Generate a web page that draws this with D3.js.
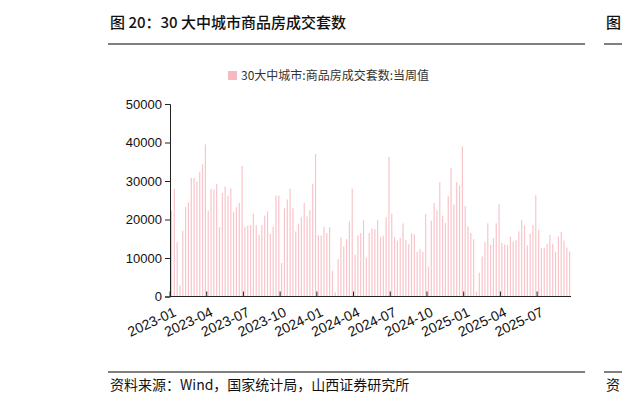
<!DOCTYPE html>
<html><head><meta charset="utf-8">
<style>body{margin:0;background:#fff}</style></head>
<body>
<svg width="622" height="406" font-family="'Noto Sans CJK SC', sans-serif"></svg>
<script src="https://d3js.org/d3.v7.min.js"></script>
<script>
// weekly values, 2023-01 .. 2025-09
var values = [
  22400,28000,14100,2900,17100,23200,24500,30800,30800,29900,32400,34300,39500,
  22300,28000,27800,29200,18000,26900,28600,26200,28100,22000,23200,24300,33900,
  18100,18400,18500,21500,18500,16000,18600,21000,22100,16300,18100,26200,26200,
  8700,22900,25200,28000,22900,16900,18900,20600,24300,20800,22400,29300,37000,
  15900,15800,18100,16500,18000,6700,1100,9700,15300,13000,14900,19500,28000,
  10900,15900,16500,19900,10100,
  16500,17700,17500,19900,15500,15800,20600,36300,21500,15500,14500,15200,19000,
  14600,13600,16500,16100,11600,12300,11600,21400,7800,19700,24300,22400,29700,
  21000,19100,26000,33400,23900,29700,28800,39000,23500,18200,16500,14900,1300,
  6200,10400,14100,19000,13400,15200,19000,24000,13900,13500,13400,15500,14300,
  14600,16900,19900,18400,13300,16300,18600,26300,17300,12600,12700,13700,16000,
  13700,11600,15600,16800,14500,12700,11700
];
var tickLabels = ["2023-01","2023-04","2023-07","2023-10","2024-01","2024-04",
  "2024-07","2024-10","2025-01","2025-04","2025-07"];
var yTicks = [0,10000,20000,30000,40000,50000];
var seriesName = "30大中城市:商品房成交套数:当周值";

var svg = d3.select("svg");
var x0 = 170, x1 = 571, yBase = 296.5, yTop = 104;

var x = d3.scaleLinear().domain([0, values.length]).range([x0, x1]);
var y = d3.scaleLinear().domain([0, 50000]).range([yBase, yTop]);

// title
svg.append("text").attr("x", 110).attr("y", 28).attr("font-size", 15).attr("font-weight", 500)
  .attr("fill", "#111").text("图 20：30 大中城市商品房成交套数");
svg.append("line").attr("x1", 108).attr("x2", 585).attr("y1", 44).attr("y2", 44)
  .attr("stroke", "#000").attr("stroke-width", 1);
svg.append("text").attr("x", 606).attr("y", 28).attr("font-size", 15).attr("font-weight", 500)
  .attr("fill", "#111").text("图");
svg.append("line").attr("x1", 604).attr("x2", 622).attr("y1", 44).attr("y2", 44)
  .attr("stroke", "#000");

// legend
svg.append("rect").attr("x", 228).attr("y", 71).attr("width", 9).attr("height", 9).attr("fill", "#f7b9c0");
svg.append("text").attr("x", 241).attr("y", 80).attr("font-size", 12).attr("fill", "#333").text(seriesName);

// bars
svg.append("g").selectAll("rect").data(values).join("rect")
  .attr("x", function(d, i) { return x(i) + 0.9; })
  .attr("width", 1.2)
  .attr("y", function(d) { return y(d); })
  .attr("height", function(d) { return yBase - y(d); })
  .attr("fill", "#f9c4ca");

// y axis
var ya = svg.append("g").attr("transform", "translate(" + x0 + ",0)")
  .call(d3.axisLeft(y).tickValues(yTicks).tickSize(5).tickFormat(d3.format("d")));
ya.selectAll("text").attr("font-size", 13).attr("fill", "#111").attr("font-family", "'Liberation Sans', sans-serif");
ya.selectAll("line,path").attr("stroke", "#222");

// x axis
var xa = svg.append("g").attr("transform", "translate(0," + yBase + ")");
xa.append("line").attr("x1", x0).attr("x2", x1).attr("stroke", "#222");
tickLabels.forEach(function(t, k) {
  var px = x(k * 13);
  xa.append("line").attr("x1", px).attr("x2", px).attr("y1", 0).attr("y2", -5).attr("stroke", "#222");
  xa.append("text").attr("transform", "translate(" + (px + 3) + ",10) rotate(-25)")
    .attr("text-anchor", "end").attr("dy", "0.7em").attr("font-size", 14).attr("fill", "#111")
    .attr("font-family", "'Liberation Sans', sans-serif").text(t);
});

// footer
svg.append("line").attr("x1", 108).attr("x2", 585).attr("y1", 372).attr("y2", 372).attr("stroke", "#000");
svg.append("line").attr("x1", 604).attr("x2", 622).attr("y1", 372).attr("y2", 372).attr("stroke", "#000");
svg.append("text").attr("x", 110).attr("y", 390).attr("font-size", 14).attr("fill", "#111")
  .text("资料来源：Wind，国家统计局，山西证券研究所");
svg.append("text").attr("x", 606).attr("y", 390).attr("font-size", 14).attr("fill", "#111").text("资");
</script>
</body></html>
